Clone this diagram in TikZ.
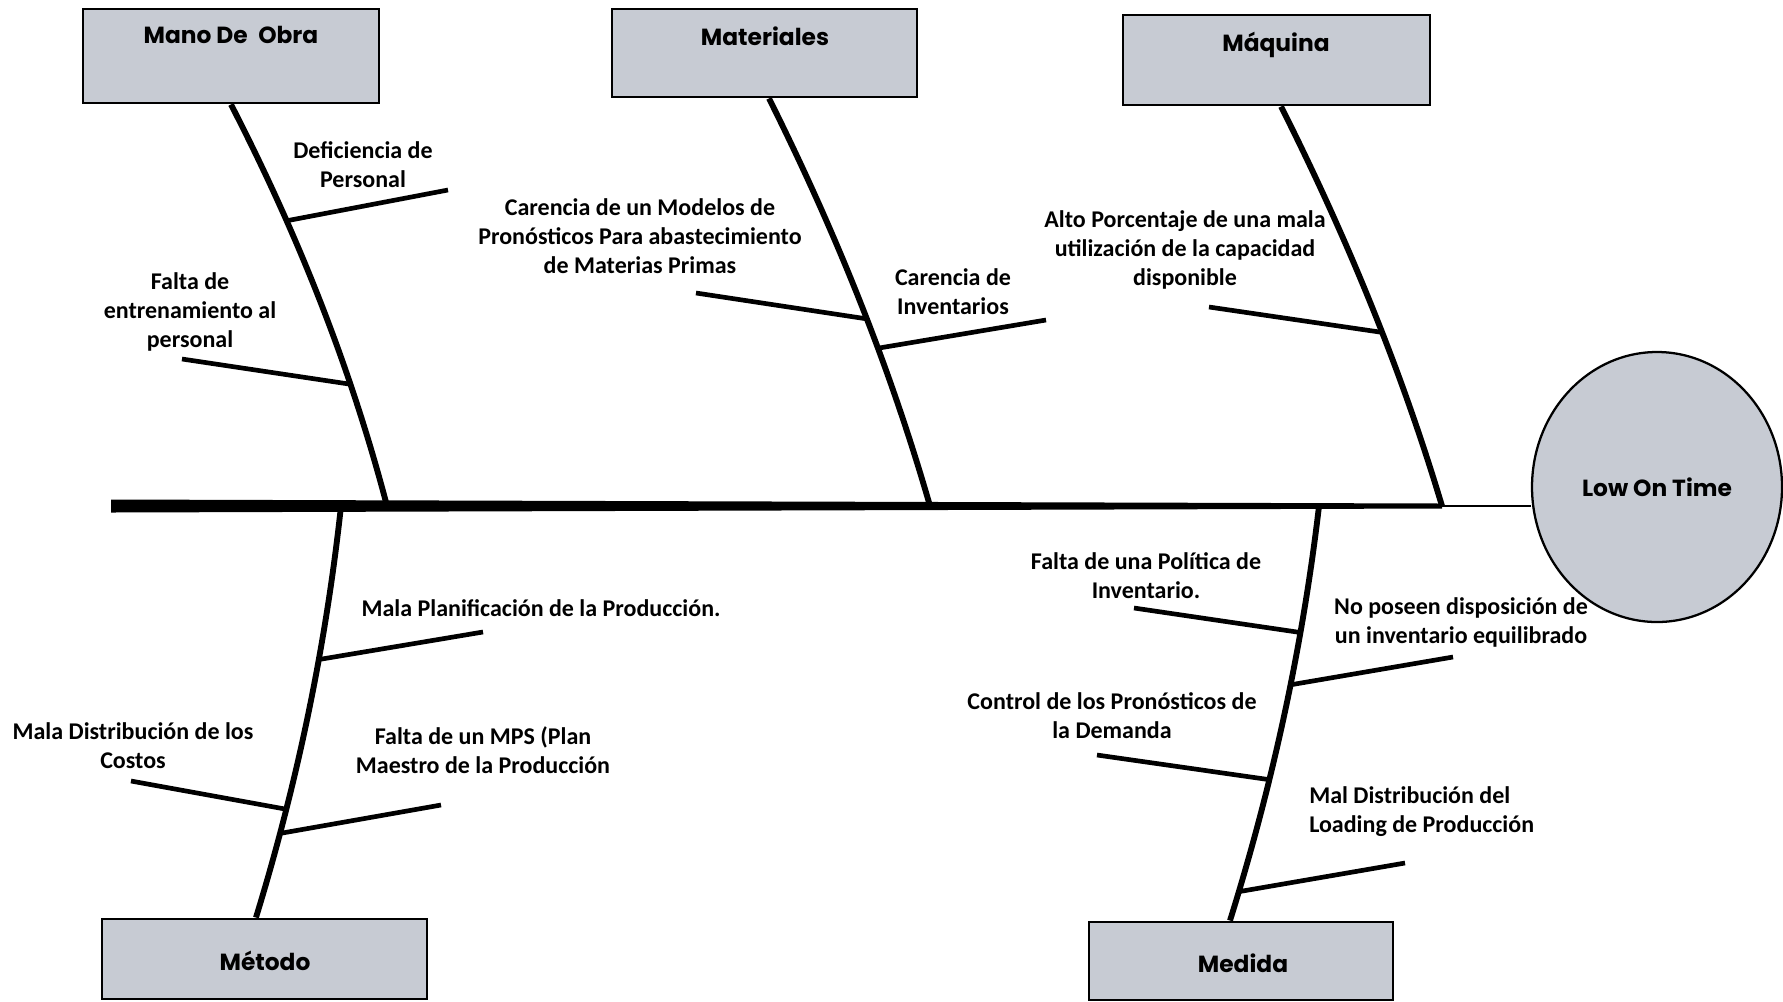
\documentclass[tikz,border=0pt]{standalone}
\usepackage{fontspec}
\setmainfont{Carlito}
\newfontfamily\headfont{Poppins}
\usetikzlibrary{shapes.geometric}
\definecolor{boxgray}{RGB}{199,203,211}
\begin{document}
\begin{tikzpicture}[x=0.75pt,y=-0.75pt,
  catbox/.style={draw=black, line width=2.2pt, fill=boxgray, inner sep=0pt},
  cattext/.style={font=\headfont\bfseries\fontsize{17.5}{21}\selectfont, inner sep=0pt},
  cause/.style={font=\bfseries\fontsize{18}{21.75}\selectfont, align=center, inner sep=0pt},
  bone/.style={line width=4.4pt},
  twig/.style={line width=3.5pt},
]
\useasboundingbox (0,0) rectangle (1783,1001);

% category boxes
\node[catbox, minimum width=222pt, minimum height=70.5pt] (mob) at (231,56) {};
\node[cattext] (mobt) at (231,35) {Mano De\hspace{0.45em}Obra};
\node[catbox, minimum width=228.75pt, minimum height=66pt] (mat) at (764.5,53) {};
\node[cattext] (matt) at (765,36) {Materiales};
\node[catbox, minimum width=230.25pt, minimum height=67.5pt] (maq) at (1276.5,60) {};
\node[cattext] (maqt) at (1276,45) {Máquina};
\node[catbox, minimum width=243.75pt, minimum height=60pt] (met) at (264.5,959) {};
\node[cattext] (mett) at (265,961) {Método};
\node[catbox, minimum width=228pt, minimum height=58.5pt] (med) at (1241,961) {};
\node[cattext] (medt) at (1243,963) {Medida};

% effect
\node[ellipse, draw=black, line width=1.7pt, fill=boxgray, minimum width=187.5pt,
      minimum height=202.5pt, inner sep=0pt, font=\headfont\bfseries\fontsize{17.5}{21}\selectfont]
      (goal) at (1657,487) {Low On Time};

% spine
\coordinate (tail) at (111,506);
\coordinate (aMO) at (387,506);
\coordinate (aMA) at (930,506);
\coordinate (aMQ) at (1442,506);
\coordinate (aME) at (341,506);
\coordinate (aMD) at (1319,506);
\fill (111,499.5) -- (1442,503.5) -- (1442,508.5) -- (111,512.5) -- cycle;
\draw[line width=2.2pt] (aMQ) -- (aMQ -| goal.west);

% main bones
\draw[bone] (mob.south) .. controls (298.3,235.3) and (350.7,367.7) .. (aMO)
  coordinate[pos=0.295] (jMO1) coordinate[pos=0.703] (jMO2);
\draw[bone] ([xshift=3.4pt]mat.south) .. controls (836,232.7) and (889.7,366.3) .. (aMA)
  coordinate[pos=0.546] (jMA1) coordinate[pos=0.618] (jMA2);
\draw[bone] ([xshift=3.4pt]maq.south) .. controls (1348,239.7) and (1401.7,371.3) .. (aMQ)
  coordinate[pos=0.567] (jMQ1);
\draw[bone] (aME) .. controls (326,644.3) and (297.7,781.7) .. ([xshift=-6.4pt]met.north)
  coordinate[pos=0.371] (jME1) coordinate[pos=0.735] (jME2) coordinate[pos=0.794] (jME3);
\draw[bone] (aMD) .. controls (1302.7,645) and (1273,783) .. ([xshift=-8.25pt]med.north)
  coordinate[pos=0.304] (jMD1) coordinate[pos=0.430] (jMD2)
  coordinate[pos=0.659] (jMD3) coordinate[pos=0.930] (jMD4);

% free ends of the cause lines
\coordinate (eMO1) at (448,190);
\coordinate (eMO2) at (182,359);
\coordinate (eMA1) at (696,293);
\coordinate (eMA2) at (1046,320);
\coordinate (eMQ1) at (1209,307);
\coordinate (eME1) at (483,632);
\coordinate (eME2) at (131,781);
\coordinate (eME3) at (441,805);
\coordinate (eMD1) at (1134,608);
\coordinate (eMD2) at (1453,657);
\coordinate (eMD3) at (1097,755);
\coordinate (eMD4) at (1405,863);

\draw[twig] (jMO1) -- (eMO1);
\draw[twig] (eMO2) -- (jMO2);
\draw[twig] (eMA1) -- (jMA1);
\draw[twig] (jMA2) -- (eMA2);
\draw[twig] (eMQ1) -- (jMQ1);
\draw[twig] (jME1) -- (eME1);
\draw[twig] (eME2) -- (jME2);
\draw[twig] (jME3) -- (eME3);
\draw[twig] (eMD1) -- (jMD1);
\draw[twig] (jMD2) -- (eMD2);
\draw[twig] (eMD3) -- (jMD3);
\draw[twig] (jMD4) -- (eMD4);

% cause labels
\node[cause] (lMO1) at (363,165) {Deficiencia de\\Personal};
\node[cause] (lMO2) at (190,312) {Falta de\\entrenamiento al\\personal};
\node[cause] (lMA1) at (640,236) {Carencia de un Modelos de\\Pronósticos Para abastecimiento\\de Materias Primas};
\node[cause] (lMA2) at (953,292) {Carencia de\\Inventarios};
\node[cause] (lMQ1) at (1185,250) {Alto Porcentaje de una mala\\utilización de la capacidad\\disponible};
\node[cause] (lME1) at (541,608) {Mala Planificación de la Producción.};
\node[cause] (lME2) at (133,746) {Mala Distribución de los\\Costos};
\node[cause] (lME3) at (483,750) {Falta de un MPS (Plan\\Maestro de la Producción};
\node[cause] (lMD1) at (1146,576) {Falta de una Política de\\Inventario.};
\node[cause] (lMD2) at (1461,622) {No poseen disposición de\\un inventario equilibrado};
\node[cause] (lMD3) at (1112,716) {Control de los Pronósticos de\\la Demanda};
\node[cause, align=left, anchor=west] (lMD4) at (1309,812) {Mal Distribución del\\Loading de Producción};
\end{tikzpicture}
\end{document}
